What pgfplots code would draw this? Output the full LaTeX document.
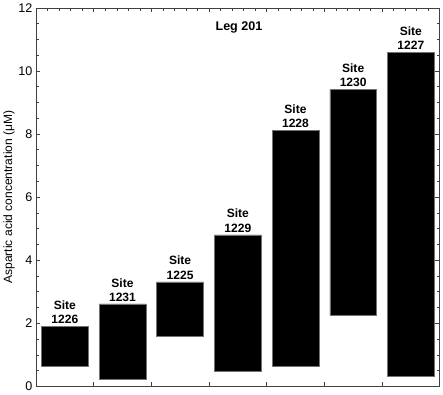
\documentclass[border=0pt]{standalone}
\usepackage{fontspec}
\setmainfont{Liberation Sans}
\usepackage{pgfplots}
\pgfplotsset{compat=1.18}
\usepackage{pgfplotstable}
\pgfplotstableread{
x lo hi site
0 0.63 1.90 1226
1 0.21 2.61 1231
2 1.59 3.31 1225
3 0.48 4.80 1229
4 0.63 8.10 1228
5 2.25 9.40 1230
6 0.31 10.59 1227
}\data
\begin{document}
\begin{tikzpicture}
\begin{axis}[
  scale only axis, width=402pt, height=377pt,
  xmin=-0.5, xmax=6.5, ymin=0, ymax=12,
  xtick={0.5,1.5,...,5.5}, xticklabels={},
  xtick pos=lower,
  ytick={0,2,...,12}, minor y tick num=3, ytick pos=both,
  tick align=inside,
  major tick length=4.5pt, minor tick length=2.8pt,
  axis line style={black!75},
  every tick/.style={black!75},
  /pgf/number format/assume math mode=true,
  tick label style={font=\fontsize{12.5}{14}\selectfont},
  ylabel={Aspartic acid concentration (μM)},
  ylabel style={font=\fontsize{12}{14}\selectfont, yshift=-3pt},
  ybar stacked, bar width=46.5pt,
  clip=false,
]
\addplot[draw=none, fill=none] table[x=x, y=lo]{\data};
\addplot[fill=black, draw=black!55, line width=0.6pt]
  table[x=x, y expr=\thisrow{hi}-\thisrow{lo}]{\data};
\node[font=\bfseries\fontsize{12.5}{14}\selectfont] at (axis cs:3.02,11.36) {Leg 201};
\end{axis}
\begin{axis}[
  scale only axis, width=402pt, height=377pt,
  xmin=-0.5, xmax=6.5, ymin=0, ymax=12,
  xtick={-0.5,0.5,...,6.5}, xticklabels={}, minor x tick num=4,
  xtick pos=upper, ytick=\empty,
  tick align=inside,
  major tick length=4.5pt, minor tick length=2.8pt,
  axis line style={draw=none},
  every tick/.style={black!75},
  clip=false,
]
\addplot[draw=none, mark=none,
  point meta=explicit symbolic,
  nodes near coords={Site\\\pgfplotspointmeta},
  every node near coord/.append style={align=center, anchor=south,
    font=\bfseries\fontsize{12}{14}\selectfont, inner sep=2.5pt, text=black}]
  table[x=x, y=hi, meta=site]{\data};
\end{axis}
\end{tikzpicture}
\end{document}
